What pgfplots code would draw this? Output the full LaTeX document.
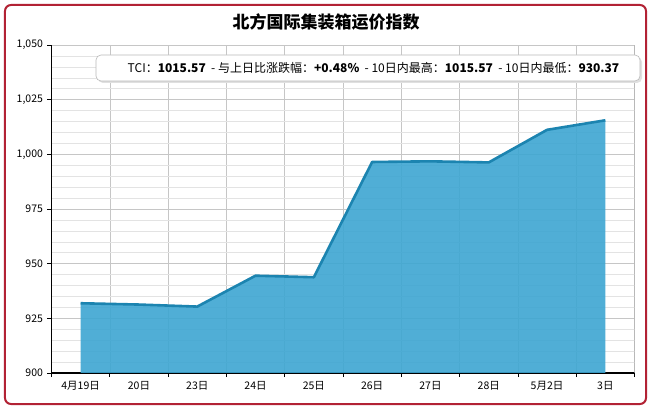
\documentclass[border=0pt]{standalone}
\usepackage{fontspec}
\setmainfont{Noto Sans CJK SC}
\usepackage{pgfplots}
\pgfplotsset{compat=1.18}

\definecolor{areafill}{RGB}{61,166,210}
\definecolor{arealine}{RGB}{28,132,176}
\definecolor{framered}{RGB}{178,34,52}

\begin{document}
\begin{tikzpicture}[x=1pt,y=1pt]
% page and frame
\path[use as bounding box] (-51.5,-36) rectangle (600.5,373);
\draw[framered, line width=2pt, rounded corners=6pt, fill=white]
  (-46.5,-31) rectangle (594.5,368);

\begin{axis}[
    scale only axis,
    width=583pt, height=328pt,
    xmin=-0.5, xmax=9.5,
    ymin=900, ymax=1050,
    xtick={-0.5,0.5,...,9.5},
    x tick label as interval,
    xticklabels={4月19日,20日,23日,24日,25日,26日,27日,28日,5月2日,3日},
    ytick={900,925,...,1050},
    minor y tick num=4,
    axis lines*=left,
    axis line style={-},
    x axis line style={line width=1.6pt},
    y axis line style={line width=1.2pt},
    tick align=outside,
    major tick length=4pt,
    minor tick length=0pt,
    tick style={black, line width=0.8pt},
    grid=both,
    major grid style={gray!45, line width=0.6pt},
    minor grid style={gray!22, line width=0.5pt},
    ticklabel style={font=\fontsize{10.5}{12}\selectfont},
    /pgf/number format/assume math mode=true,
    /pgf/number format/1000 sep={,},
    yticklabel style={xshift=-1pt},
    xticklabel style={yshift=-1pt},
]
\addplot[draw=none, fill=areafill, fill opacity=0.9]
  coordinates {
    (0,931.9) (1,931.3) (2,930.37) (3,944.5) (4,943.8)
    (5,996.5) (6,996.8) (7,996.3) (8,1011.2) (9,1015.57)
  } \closedcycle;
\addplot[draw=arealine, line width=2.6pt, line join=round]
  coordinates {
    (0,931.9) (1,931.3) (2,930.37) (3,944.5) (4,943.8)
    (5,996.5) (6,996.8) (7,996.3) (8,1011.2) (9,1015.57)
  };
\draw[gray!60, line width=1.2pt] (rel axis cs:1,0) -- (rel axis cs:1,1);
\end{axis}

% title
\node[font=\fontsize{17}{19}\selectfont\bfseries] at (274.5,351) {北方国际集装箱运价指数};

% info box
\fill[black!12, rounded corners=5pt] (46.5,290) rectangle (590.5,316);
\draw[gray!55, fill=white, rounded corners=5pt, line width=0.6pt]
  (44.5,292) rectangle (588.5,318);
\node[font=\fontsize{12}{14}\selectfont] at (322,305)
  {TCI：\textbf{1015.57}\ \ - 与上日比涨跌幅：\textbf{+0.48\%}\ \ - 10日内最高：\textbf{1015.57}\ \ - 10日内最低：\textbf{930.37}};
\end{tikzpicture}
\end{document}
